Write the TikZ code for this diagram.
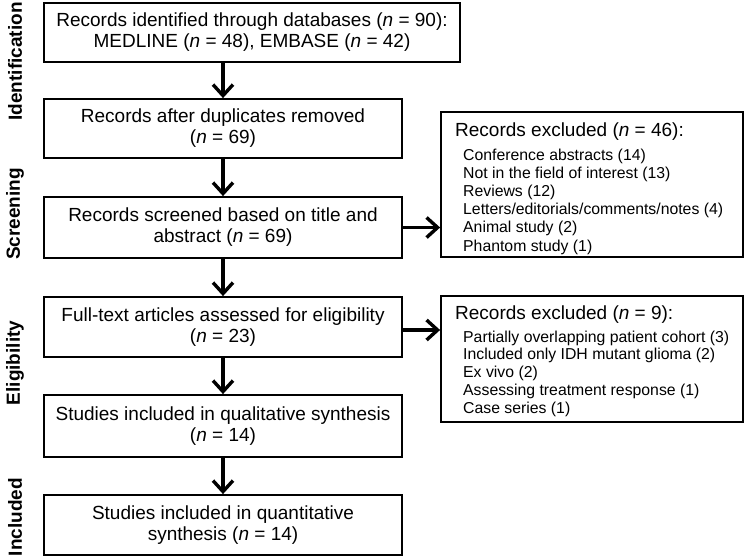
\documentclass[tikz,border=0pt]{standalone}
\usepackage{fontspec}
\setmainfont{Liberation Sans}
\usetikzlibrary{arrows.meta}
\begin{document}
\begin{tikzpicture}[x=1pt,y=-1pt,
  mainbox/.style={draw, line width=1.8pt, minimum width=358pt, minimum height=60pt, align=center, font=\fontsize{19}{21}\selectfont, inner sep=0pt},
  exbox/.style={draw, line width=1.8pt, minimum width=302pt, inner sep=0pt},
  flow/.style={line width=3.4pt, -{Straight Barb[length=11pt,width=20pt,line width=3.4pt]}},
  side/.style={rotate=90, inner sep=0pt, font=\fontsize{19}{21}\selectfont\bfseries},
  extitle/.style={anchor=base west, inner sep=0pt, font=\fontsize{19}{21}\selectfont},
  exitem/.style={anchor=base west, inner sep=0pt, font=\fontsize{15.8}{18}\selectfont}]
\useasboundingbox (0,0) rectangle (745,558);

% side labels
\node[side] (sid) at (15,61.5) {Identification};
\node[side] (ssc) at (15,214) {Screening};
\node[side] (sel) at (15,363) {Eligibility};
\node[side] (sin) at (15,517) {Included};

% main column
\node[mainbox, minimum width=416pt, minimum height=59pt] (b1) at (252,32.5)
  {Records identified through databases (\textit{n} = 90):\\MEDLINE (\textit{n} = 48), EMBASE (\textit{n} = 42)};
\node[mainbox, minimum height=59pt] (b2) at (223,128.5)
  {Records after duplicates removed\\(\textit{n} = 69)};
\node[mainbox, minimum height=61pt] (b3) at (223,227.5)
  {Records screened based on title and\\abstract (\textit{n} = 69)};
\node[mainbox] (b4) at (223,327)
  {Full-text articles assessed for eligibility\\(\textit{n} = 23)};
\node[mainbox, minimum height=62pt] (b5) at (223,426)
  {Studies included in qualitative synthesis\\(\textit{n} = 14)};
\node[mainbox] (b6) at (223,525)
  {Studies included in quantitative\\synthesis (\textit{n} = 14)};

% exclusion boxes
\node[exbox, minimum height=145pt] (e1) at (592,184.5) {};
\node[extitle] (e1t) at (455,136.5) {Records excluded (\textit{n} = 46):};
\foreach \t [count=\i from 0] in {Conference abstracts (14),Not in the field of interest (13),Reviews (12),Letters/editorials/comments/notes (4),Animal study (2),Phantom study (1)}
  \node[exitem] (e1i\i) at (463,160+18.2*\i) {\t};

\node[exbox, minimum height=126pt] (e2) at (592,359) {};
\node[extitle] (e2t) at (455,319) {Records excluded (\textit{n} = 9):};
\foreach \t [count=\i from 0] in {Partially overlapping patient cohort (3),Included only IDH mutant glioma (2),Ex vivo (2),Assessing treatment response (1),Case series (1)}
  \node[exitem] (e2i\i) at (463,342+17.8*\i) {\t};

% connectors
\draw[flow] (b2.north |- b1.south) -- (b2.north);
\draw[flow] (b2.south) -- (b3.north);
\draw[flow] (b3.south) -- (b4.north);
\draw[flow] (b4.south) -- (b5.north);
\draw[flow] (b5.south) -- (b6.north);
\draw[flow] (b3.east) -- (b3.east -| e1.west);
\draw[flow] ([yshift=-3pt]b4.east) -- ([yshift=-3pt]b4.east -| e2.west);
\end{tikzpicture}
\end{document}
